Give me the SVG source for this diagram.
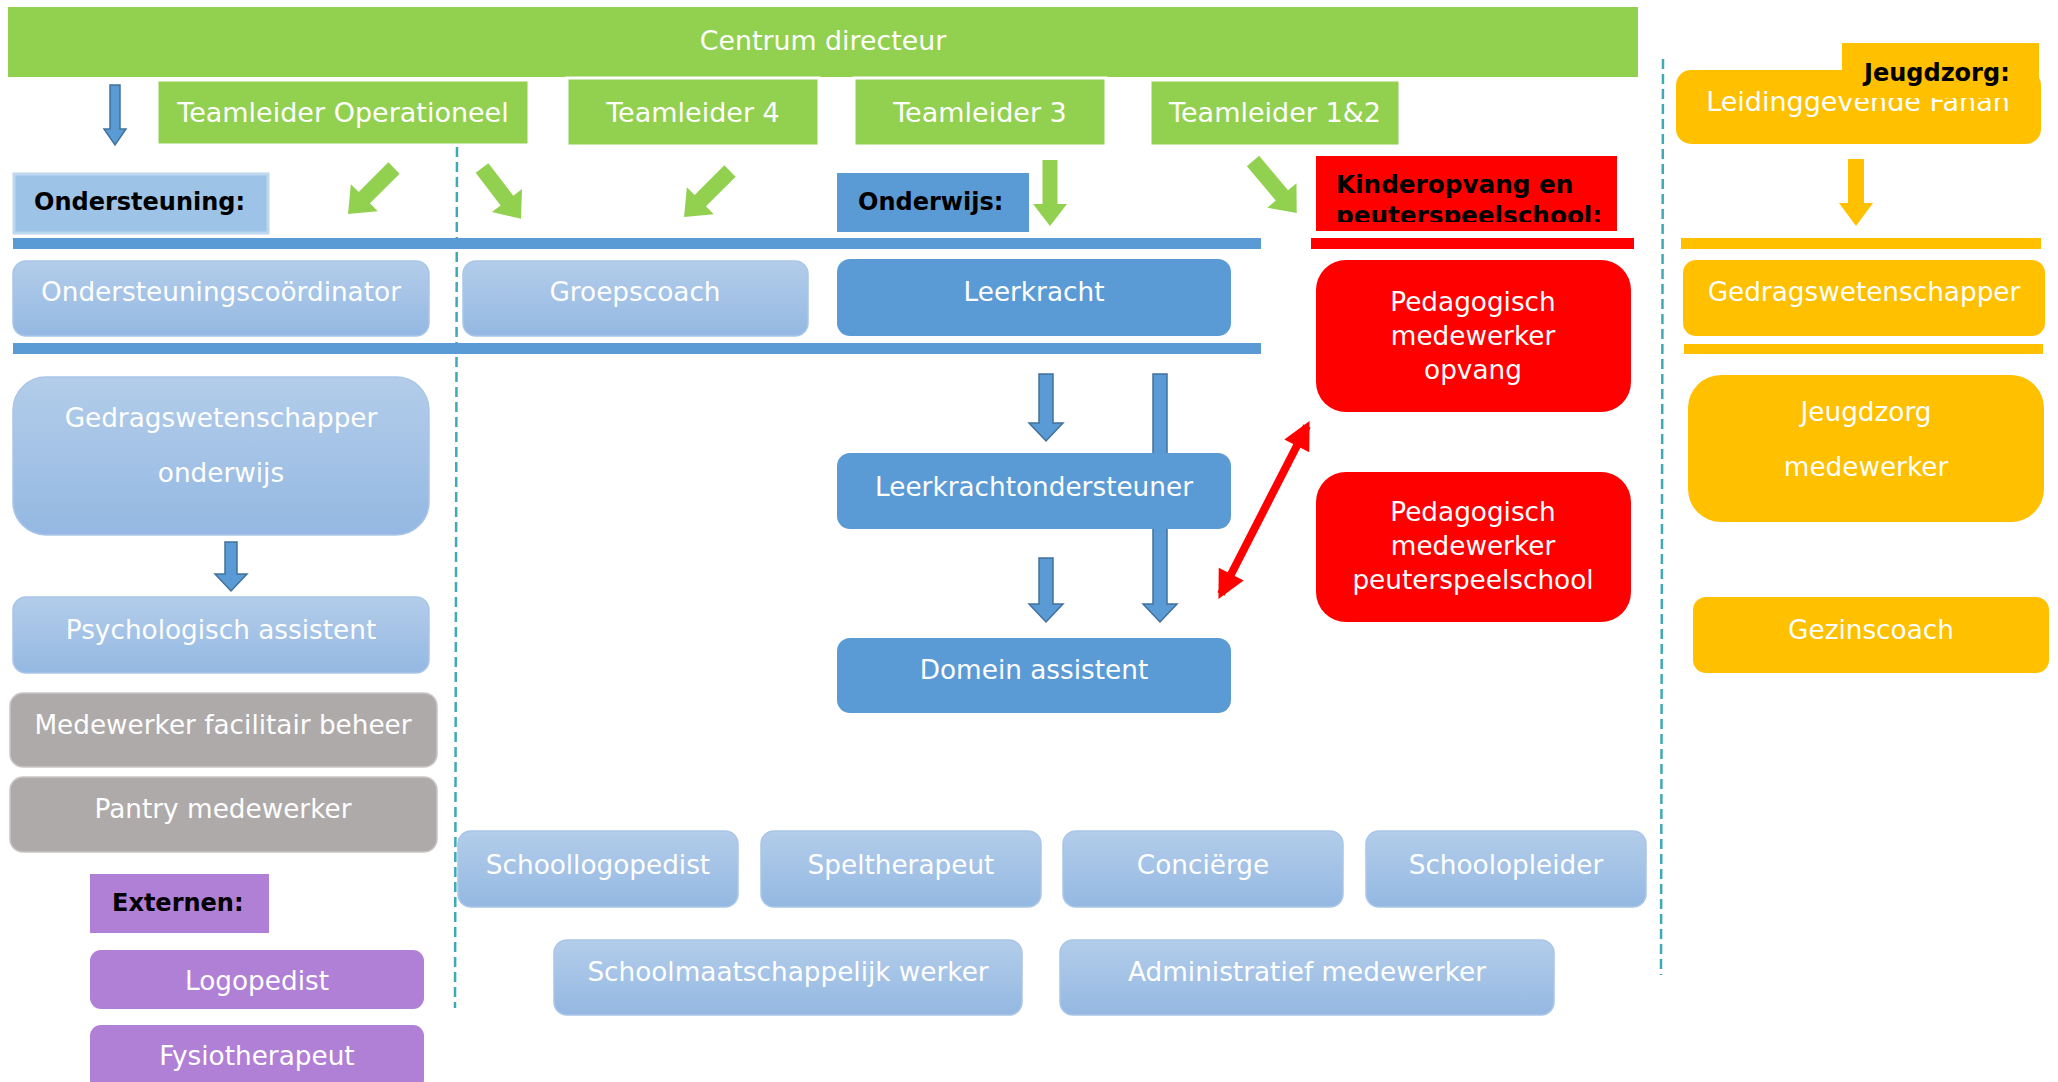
<svg xmlns="http://www.w3.org/2000/svg" width="2058" height="1082" viewBox="0 0 2058 1082">
<defs>
<style>
.t{font-family:"DejaVu Sans","Verdana",sans-serif;font-size:26.3px;fill:#fff;text-anchor:middle}
.tg{font-family:"DejaVu Sans","Verdana",sans-serif;font-size:27px;fill:#fff;text-anchor:middle}
.b{font-family:"DejaVu Sans","Verdana",sans-serif;font-size:24px;font-weight:bold;fill:#000}
.green{fill:#92D050}
.gbox{fill:#92D050;stroke:#fff;stroke-width:3}
.lb{fill:url(#lbg);stroke:#A9C6E8;stroke-width:1.5}
.blue{fill:#5B9BD5}
.red{fill:#FF0000}
.yel{fill:#FFC000}
.grey{fill:#AEAAAA;stroke:#C9C6C6;stroke-width:1.5}
.pur{fill:#B07FD6}
.barr{fill:#5B9BD5}
.dash{stroke:#3FA9B5;stroke-width:2.5;stroke-dasharray:10 5;fill:none}
.barrow{fill:#5B9BD5;stroke:#41719C;stroke-width:1.5}
</style>
<linearGradient id="lbg" x1="0" y1="0" x2="0" y2="1">
<stop offset="0" stop-color="#B3CDEA"/>
<stop offset="1" stop-color="#94B8E2"/>
</linearGradient>
<marker id="rh" viewBox="0 0 10 10" refX="8" refY="5" markerWidth="30" markerHeight="28" markerUnits="userSpaceOnUse" orient="auto-start-reverse">
<path d="M0,0 L10,5 L0,10 Z" fill="#FF0000"/>
</marker>
<clipPath id="kclip"><rect x="1316" y="156" width="301" height="66"/></clipPath>
</defs>

<!-- dashed separators -->
<g id="separators">
<line class="dash" x1="457" y1="147" x2="455" y2="1008"/>
<line class="dash" x1="1663" y1="59" x2="1661" y2="975"/>
</g>

<!-- bars -->
<g id="bars">
<rect class="barr" x="13" y="238" width="1248" height="11"/>
<rect class="barr" x="13" y="343" width="1248" height="11"/>
<rect class="red" x="1311" y="238" width="323" height="11"/>
<rect class="yel" x="1681" y="238" width="360" height="11"/>
<rect class="yel" x="1684" y="344" width="359" height="10"/>
</g>

<!-- connectors -->
<g id="connectors">
<polygon class="barrow" points="110,85 120,85 120,129 126,129 115,145 104,129 110,129"/>
<g transform="translate(394,168) rotate(45)"><polygon class="green" points="-8,0 8,0 8,42 19,42 0,65 -19,42 -8,42"/></g>
<g transform="translate(482,168) rotate(-37.5)"><polygon class="green" points="-8,0 8,0 8,41 19,41 0,64 -19,41 -8,41"/></g>
<g transform="translate(730,171) rotate(45)"><polygon class="green" points="-8,0 8,0 8,42 19,42 0,65 -19,42 -8,42"/></g>
<g transform="translate(1050,160)"><polygon class="green" points="-7.5,0 7.5,0 7.5,44 17,44 0,66 -17,44 -7.5,44"/></g>
<g transform="translate(1253,161) rotate(-40)"><polygon class="green" points="-8,0 8,0 8,45 19,45 0,68 -19,45 -8,45"/></g>
<polygon class="yel" points="1848,159 1864,159 1864,203 1873,203 1856,226 1839,203 1848,203"/>
<polygon class="barrow" points="225,542 237,542 237,574 247,574 231,591 215,574 225,574"/>
<polygon class="barrow" points="1039,374 1053,374 1053,423 1063,423 1046,441 1029,423 1039,423"/>
<polygon class="barrow" points="1153,374 1167,374 1167,604 1177,604 1160,622 1143,604 1153,604"/>
<polygon class="barrow" points="1039,558 1053,558 1053,604 1063,604 1046,622 1029,604 1039,604"/>
<line x1="1307" y1="426" x2="1221" y2="594" stroke="#FF0000" stroke-width="8" marker-start="url(#rh)" marker-end="url(#rh)"/>
</g>

<!-- top -->
<g id="centrum-directeur">
<rect class="green" x="8" y="7" width="1630" height="70"/>
<text class="t" x="823" y="50" style="font-size:26.8px">Centrum directeur</text>
</g>
<g id="teamleider-operationeel">
<rect class="gbox" x="157" y="80" width="372" height="65"/>
<text class="tg" x="343" y="122">Teamleider Operationeel</text>
</g>
<g id="teamleider-4">
<rect class="gbox" x="567" y="78" width="252" height="68"/>
<text class="tg" x="693" y="122">Teamleider 4</text>
</g>
<g id="teamleider-3">
<rect class="gbox" x="854" y="78" width="252" height="68"/>
<text class="tg" x="980" y="122">Teamleider 3</text>
</g>
<g id="teamleider-12">
<rect class="gbox" x="1150" y="80" width="250" height="66"/>
<text class="tg" x="1275" y="122">Teamleider 1&amp;2</text>
</g>

<!-- section labels -->
<g id="label-ondersteuning">
<rect x="14" y="174" width="254" height="59" fill="#9DC3E6" stroke="#BDD7EE" stroke-width="3"/>
<text class="b" x="34" y="210">Ondersteuning:</text>
</g>
<g id="label-onderwijs">
<rect class="blue" x="837" y="173" width="192" height="59"/>
<text class="b" x="858" y="210">Onderwijs:</text>
</g>
<g id="label-kinderopvang">
<rect class="red" x="1316" y="156" width="301" height="75"/>
<g clip-path="url(#kclip)">
<text class="b" x="1336" y="193" style="font-size:24.7px">Kinderopvang en</text>
<text class="b" x="1336" y="224" style="font-size:24.7px">peuterspeelschool:</text>
</g>
</g>
<g id="leidinggevende-fanan">
<rect class="yel" x="1676" y="70" width="365" height="74" rx="15"/>
<text class="t" x="1858" y="111" style="font-size:27px">Leidinggevende Fanan</text>
</g>
<g id="label-jeugdzorg">
<rect class="yel" x="1842" y="43" width="197" height="55"/>
<text class="b" x="1864" y="81">Jeugdzorg:</text>
</g>

<!-- row 1 -->
<g id="ondersteuningscoordinator">
<rect class="lb" x="13" y="261" width="416" height="75" rx="13"/>
<text class="t" x="221" y="301">Ondersteuningscoördinator</text>
</g>
<g id="groepscoach">
<rect class="lb" x="463" y="261" width="345" height="75" rx="13"/>
<text class="t" x="635" y="301">Groepscoach</text>
</g>
<g id="leerkracht">
<rect class="blue" x="837" y="259" width="394" height="77" rx="13"/>
<text class="t" x="1034" y="301">Leerkracht</text>
</g>
<g id="gedragswetenschapper-jz">
<rect class="yel" x="1683" y="260" width="362" height="76" rx="13"/>
<text class="t" x="1864" y="301">Gedragswetenschapper</text>
</g>
<g id="pedagogisch-opvang">
<rect class="red" x="1316" y="260" width="315" height="152" rx="30"/>
<text class="t" x="1473" y="311">Pedagogisch</text>
<text class="t" x="1473" y="345">medewerker</text>
<text class="t" x="1473" y="379">opvang</text>
</g>

<!-- row 2 -->
<g id="gedragswetenschapper-onderwijs">
<rect class="lb" x="13" y="377" width="416" height="158" rx="33"/>
<text class="t" x="221" y="427">Gedragswetenschapper</text>
<text class="t" x="221" y="482">onderwijs</text>
</g>
<g id="leerkrachtondersteuner">
<rect class="blue" x="837" y="453" width="394" height="76" rx="13"/>
<text class="t" x="1034" y="496">Leerkrachtondersteuner</text>
</g>
<g id="jeugdzorg-medewerker">
<rect class="yel" x="1688" y="375" width="356" height="147" rx="33"/>
<text class="t" x="1866" y="421">Jeugdzorg</text>
<text class="t" x="1866" y="476">medewerker</text>
</g>
<g id="pedagogisch-peuterspeelschool">
<rect class="red" x="1316" y="472" width="315" height="150" rx="30"/>
<text class="t" x="1473" y="521">Pedagogisch</text>
<text class="t" x="1473" y="555">medewerker</text>
<text class="t" x="1473" y="589">peuterspeelschool</text>
</g>

<!-- row 3 -->
<g id="psychologisch-assistent">
<rect class="lb" x="13" y="597" width="416" height="76" rx="13"/>
<text class="t" x="221" y="639">Psychologisch assistent</text>
</g>
<g id="domein-assistent">
<rect class="blue" x="837" y="638" width="394" height="75" rx="13"/>
<text class="t" x="1034" y="679">Domein assistent</text>
</g>
<g id="gezinscoach">
<rect class="yel" x="1693" y="597" width="356" height="76" rx="13"/>
<text class="t" x="1871" y="639">Gezinscoach</text>
</g>

<!-- grey -->
<g id="medewerker-facilitair-beheer">
<rect class="grey" x="10" y="693" width="427" height="74" rx="13"/>
<text class="t" x="223" y="734">Medewerker facilitair beheer</text>
</g>
<g id="pantry-medewerker">
<rect class="grey" x="10" y="777" width="427" height="75" rx="13"/>
<text class="t" x="223" y="818">Pantry medewerker</text>
</g>

<!-- externen -->
<g id="label-externen">
<rect class="pur" x="90" y="874" width="179" height="59"/>
<text class="b" x="112" y="911">Externen:</text>
</g>
<g id="logopedist">
<rect class="pur" x="90" y="950" width="334" height="59" rx="11"/>
<text class="t" x="257" y="990">Logopedist</text>
</g>
<g id="fysiotherapeut">
<rect class="pur" x="90" y="1025" width="334" height="66" rx="11"/>
<text class="t" x="257" y="1065">Fysiotherapeut</text>
</g>

<!-- bottom row -->
<g id="schoollogopedist">
<rect class="lb" x="458" y="831" width="280" height="76" rx="13"/>
<text class="t" x="598" y="874">Schoollogopedist</text>
</g>
<g id="speltherapeut">
<rect class="lb" x="761" y="831" width="280" height="76" rx="13"/>
<text class="t" x="901" y="874">Speltherapeut</text>
</g>
<g id="concierge">
<rect class="lb" x="1063" y="831" width="280" height="76" rx="13"/>
<text class="t" x="1203" y="874">Conciërge</text>
</g>
<g id="schoolopleider">
<rect class="lb" x="1366" y="831" width="280" height="76" rx="13"/>
<text class="t" x="1506" y="874">Schoolopleider</text>
</g>
<g id="schoolmaatschappelijk-werker">
<rect class="lb" x="554" y="940" width="468" height="75" rx="13"/>
<text class="t" x="788" y="981">Schoolmaatschappelijk werker</text>
</g>
<g id="administratief-medewerker">
<rect class="lb" x="1060" y="940" width="494" height="75" rx="13"/>
<text class="t" x="1307" y="981">Administratief medewerker</text>
</g>
</svg>
